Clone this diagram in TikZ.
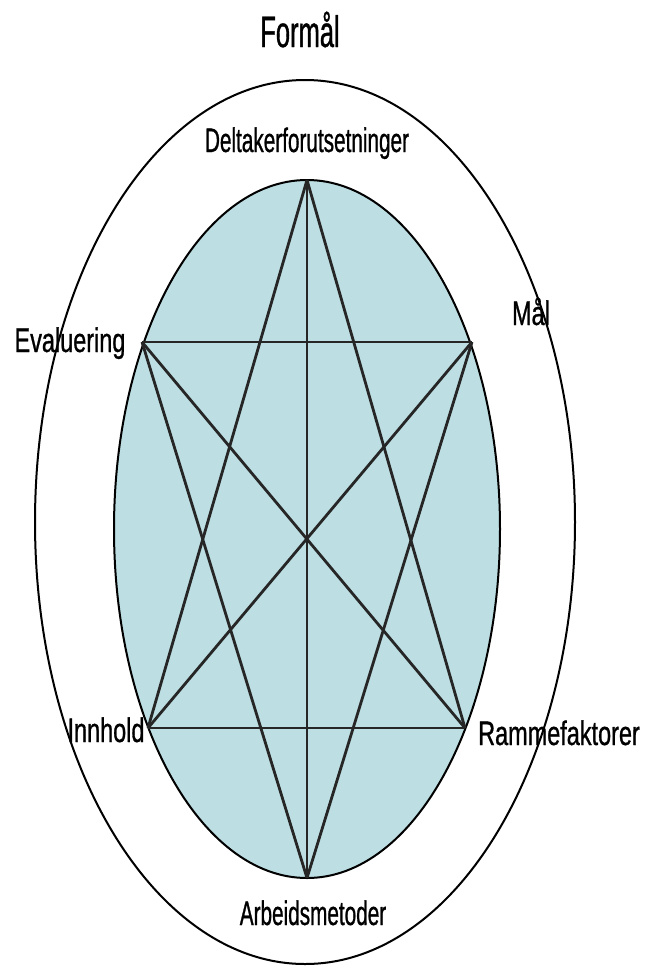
\documentclass[tikz,border=0pt]{standalone}
\usepackage{fontspec}
\setmainfont{Liberation Sans}
\newfontfamily\titlefont[FakeStretch=0.58, FakeBold=0.8]{Liberation Sans}
\newfontfamily\narrowfont[FakeStretch=0.61, FakeBold=0.8]{Liberation Sans}
\newfontfamily\sidefont[FakeStretch=0.69, FakeBold=0.8]{Liberation Sans}
\definecolor{innerblue}{RGB}{189,223,227}
\tikzset{
    vlabel/.style={font=\narrowfont\fontsize{34}{40}\selectfont, anchor=base, inner sep=0pt},
    slabel/.style={font=\sidefont\fontsize{34}{40}\selectfont, anchor=base, inner sep=0pt},
    link/.style={line width=2.8pt, black!85}
}
\begin{document}
\begin{tikzpicture}[x=1pt, y=-1pt]
    \useasboundingbox (0,0) rectangle (646,967);

    % Outer ellipse
    \draw[line width=2pt] (305,522) ellipse [x radius=270, y radius=442];

    % Inner ellipse
    \filldraw[fill=innerblue, line width=2pt] (307,529) ellipse [x radius=193, y radius=349];

    % Corners of the star
    \coordinate (top) at (307,180);
    \coordinate (bot) at (307,878);
    \coordinate (eva) at (142,342);
    \coordinate (maal) at (472,342);
    \coordinate (inn) at (148,728);
    \coordinate (ram) at (465,728);

    % Lines
    \draw[line width=1.6pt, black!85] (top) -- (bot);
    \foreach \a/\b in {eva/maal, inn/ram, top/inn, top/ram, bot/eva, bot/maal, eva/ram, maal/inn} {
        \draw[link] (\a) -- (\b);
    }

    % Labels
    \node[font=\titlefont\fontsize{44}{50}\selectfont, anchor=base, inner sep=0pt] (formaal) at (300,47) {Formål};
    \node[vlabel] (ldel) at (307,152) {Deltakerforutsetninger};
    \node[vlabel] (larb) at (313,925) {Arbeidsmetoder};
    \node[slabel] (leva) at (70,352) {Evaluering};
    \node[slabel] (lmaal) at (531,325) {Mål};
    \node[slabel] (linn) at (106,742) {Innhold};
    \node[slabel] (lram) at (559,745) {Rammefaktorer};
\end{tikzpicture}
\end{document}
